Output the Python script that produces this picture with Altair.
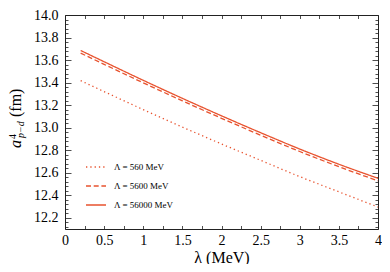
import altair as alt
import pandas as pd

# ---- data ----
lam = [0.2, 0.5, 1.0, 1.5, 2.0, 2.5, 3.0, 3.5, 4.0]
a_560 = [13.417, 13.320, 13.160, 13.005, 12.855, 12.710, 12.565, 12.430, 12.295]
a_5600 = [13.662, 13.562, 13.398, 13.238, 13.083, 12.933, 12.788, 12.653, 12.528]
a_56000 = [13.685, 13.585, 13.420, 13.260, 13.105, 12.955, 12.810, 12.675, 12.550]
series_names = ["Λ = 560 MeV", "Λ = 5600 MeV", "Λ = 56000 MeV"]

x_ticks = [0, 0.25, 0.5, 0.75, 1, 1.25, 1.5, 1.75, 2, 2.25, 2.5, 2.75, 3, 3.25, 3.5, 3.75, 4]
y_major = [12.2, 12.4, 12.6, 12.8, 13.0, 13.2, 13.4, 13.6, 13.8, 14.0]
y_minor = [12.12, 12.16, 12.24, 12.28, 12.32, 12.36, 12.44, 12.48, 12.52, 12.56,
           12.64, 12.68, 12.72, 12.76, 12.84, 12.88, 12.92, 12.96, 13.04, 13.08,
           13.12, 13.16, 13.24, 13.28, 13.32, 13.36, 13.44, 13.48, 13.52, 13.56,
           13.64, 13.68, 13.72, 13.76, 13.84, 13.88, 13.92, 13.96]

rows = []
for name, vals in zip(series_names, [a_560, a_5600, a_56000]):
    for l, v in zip(lam, vals):
        rows.append({"lam": l, "val": v, "series": name})
df = pd.DataFrame(rows)

COLOR = "#e8532f"
FONT = "Liberation Serif"

x_scale = alt.Scale(domain=[0, 4], nice=False, zero=False)
y_scale = alt.Scale(domain=[12.1, 14.0], nice=False, zero=False)

common_axis = dict(grid=False, domain=False, tickColor="#222", tickWidth=0.8,
                   labelFont=FONT, labelFontSize=14, labelColor="black",
                   labelFlush=False, labelOverlap=False)

x_bottom = alt.Axis(orient="bottom", values=x_ticks,
                    labelExpr="(datum.value*2) % 1 == 0 ? format(datum.value, '~g') : ''",
                    tickSize={"expr": "-3.5"}, labelPadding=7.5,
                    title="λ (MeV)", titleFont=FONT, titleFontSize=16,
                    titleFontWeight="normal", titleColor="black", titlePadding=2,
                    **common_axis)
x_top = alt.Axis(orient="top", values=x_ticks, labels=False,
                 tickSize={"expr": "-3.5"}, title=None, **common_axis)
y_left = alt.Axis(orient="left", values=y_major, format=".1f",
                  tickSize={"expr": "-6"}, labelPadding=13, title=None, **common_axis)
y_right = alt.Axis(orient="right", values=y_major, labels=False,
                   tickSize={"expr": "-6"}, title=None, **common_axis)
y_left_minor = alt.Axis(orient="left", values=y_minor, labels=False,
                        tickSize={"expr": "-3"}, title=None, **common_axis)
y_right_minor = alt.Axis(orient="right", values=y_minor, labels=False,
                         tickSize={"expr": "-3"}, title=None, **common_axis)

base = alt.Chart(df)

lines = base.mark_line(color=COLOR, strokeWidth=1.3, interpolate="monotone").encode(
    x=alt.X("lam:Q", scale=x_scale, axis=x_bottom),
    y=alt.Y("val:Q", scale=y_scale, axis=y_left),
    strokeDash=alt.StrokeDash(
        "series:N", sort=series_names,
        scale=alt.Scale(domain=series_names, range=[[1.3, 3], [5, 2.7], [1, 0]]),
        legend=alt.Legend(orient="none", legendX=20, legendY=141, title=None,
                          symbolType="stroke", symbolSize=400, symbolStrokeWidth=1.3,
                          symbolStrokeColor=COLOR, labelFont=FONT, labelFontSize=9,
                          labelColor="black", labelOffset=7, rowPadding=3, padding=0),
    ),
)

def ghost(xax, yax):
    enc = dict(y=alt.Y("val:Q", scale=y_scale, axis=yax), detail="series:N")
    enc["x"] = alt.X("lam:Q", scale=x_scale, axis=xax)
    return base.mark_line(opacity=0).encode(**enc)

g1 = ghost(x_top, y_right)
g2 = ghost(None, y_left_minor)
g3 = ghost(None, y_right_minor)

title_df = pd.DataFrame({"t": [0]})
def tpiece(text, x, y, size, italic):
    return alt.Chart(title_df).mark_text(
        text=text, angle=270, align="left", baseline="alphabetic",
        font=FONT, fontSize=size, fontStyle="italic" if italic else "normal",
        color="black",
    ).encode(x=alt.value(x), y=alt.value(y))

ytitle = (tpiece("a", -44, 133, 16, True) + tpiece("4", -49, 124, 10, False)
          + tpiece("p−d", -41, 123, 10, True) + tpiece("(fm)", -44, 102, 16, False))

chart = alt.layer(lines, g1, g2, g3, ytitle).resolve_axis(
    x="independent", y="independent"
).properties(
    width=313, height=214,
    autosize=alt.AutoSizeParams(type="none"),
    padding={"left": 57, "top": 7, "right": 4, "bottom": 35},
).configure_view(stroke="#222", strokeWidth=1)

chart.save("out.html", embed_options={"renderer": "svg", "actions": False})
